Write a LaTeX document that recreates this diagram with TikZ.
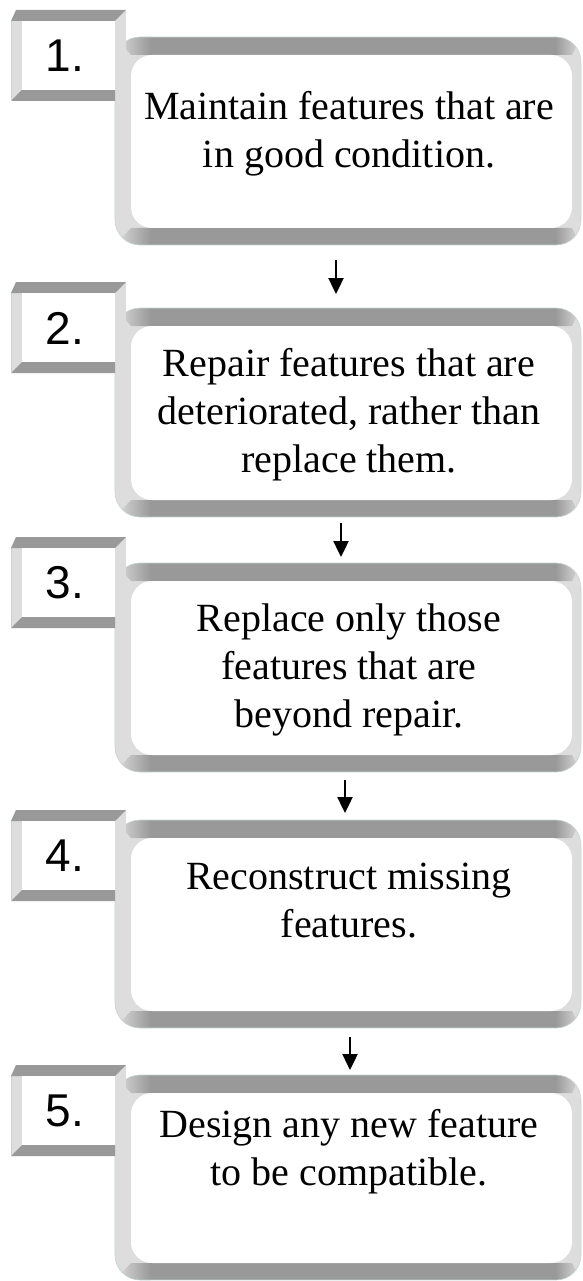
\documentclass[tikz,border=0pt]{standalone}
\usepackage{fontspec}
\setmainfont{Liberation Serif}
\newfontfamily\numfont{Liberation Sans}
\usetikzlibrary{arrows.meta}
\definecolor{bevdark}{HTML}{999999}
\definecolor{bevlight}{HTML}{DDDDDD}
\definecolor{bevedge}{HTML}{C4D4D4}

% large bevelled panel: #1 = top, #2 = bottom
\newcommand\bigpanel[2]{%
  \begin{scope}
    \clip[rounded corners=25] (115,#1) rectangle (581,#2);
    \fill[bevlight] (115,#1) rectangle (581,#2);
    % top band, softened where it turns into the side bands
    \begin{scope}
      \clip (115,#1) -- (581,#1) -- (572,#1+18) -- (131,#1+18) -- cycle;
      \fill[bevdark] (150,#1) rectangle (556,#1+18);
      \shade[left color=bevlight, right color=bevdark] (115,#1) rectangle (150.5,#1+18);
      \shade[left color=bevdark, right color=bevlight] (555.5,#1) rectangle (581,#1+18);
    \end{scope}
    % bottom band
    \begin{scope}
      \clip (115,#2) -- (581,#2) -- (572,#2-17) -- (131,#2-17) -- cycle;
      \fill[bevdark] (150,#2-17) rectangle (556,#2);
      \shade[left color=bevlight, right color=bevdark] (115,#2-17) rectangle (150.5,#2);
      \shade[left color=bevdark, right color=bevlight] (555.5,#2-17) rectangle (581,#2);
    \end{scope}
  \end{scope}
  \draw[bevedge,line width=0.6,rounded corners=25] (115,#1) rectangle (581,#2);
  \fill[white,rounded corners=21] (131,#1+18) rectangle (572,#2-17);
}
% small bevelled number tile: #1 = top
\newcommand\numtile[1]{%
  \fill[bevlight] (11,#1+11) rectangle (126,#1+91);
  \fill[bevlight] (126,#1) -- (126,#1+91) -- (115,#1+91) -- (115,#1+11) -- cycle;
  \fill[bevdark] (16,#1) -- (126,#1) -- (115,#1+11) -- (11,#1+11) -- cycle;
  \fill[bevdark] (11,#1+91) -- (115,#1+91) -- (115,#1+80) -- (22,#1+80) -- cycle;
  \fill[white] (22,#1+11) rectangle (115,#1+80);
  \draw[bevedge,line width=0.5] (11,#1+11) -- (11,#1+91);
}

\tikzset{
  steptext/.style={align=center, inner sep=0pt, font=\fontsize{40}{48}\selectfont},
  numtext/.style={inner sep=0pt, font=\numfont\fontsize{46}{46}\selectfont},
  flow/.style={line width=2.4, -{Triangle[width=15,length=16]}}
}

\begin{document}
\begin{tikzpicture}[x=1pt,y=-1pt]
  \useasboundingbox (0,0) rectangle (583,1281);

  \bigpanel{37}{245}
  \numtile{10}
  \bigpanel{308}{517}
  \numtile{282}
  \bigpanel{563}{772}
  \numtile{537}
  \bigpanel{820}{1028}
  \numtile{810}
  \bigpanel{1075}{1280}
  \numtile{1065}

  \node[numtext] (n1) at (65,56)   {1.};
  \node[numtext] (n2) at (65,328)  {2.};
  \node[numtext] (n3) at (65,583)  {3.};
  \node[numtext] (n4) at (65,856)  {4.};
  \node[numtext] (n5) at (65,1111) {5.};

  \node[steptext] (s1) at (349,134)  {Maintain features that are\\in good condition.};
  \node[steptext] (s2) at (349,415)  {Repair features that are\\deteriorated, rather than\\replace them.};
  \node[steptext] (s3) at (349,670)  {Replace only those\\features that are\\beyond repair.};
  \node[steptext] (s4) at (349,901)  {Reconstruct missing\\features.};
  \node[steptext] (s5) at (349,1152) {Design any new feature\\to be compatible.};

  \coordinate (a1) at (336,260);  \coordinate (b1) at (336,294);
  \coordinate (a2) at (341,523);  \coordinate (b2) at (341,557);
  \coordinate (a3) at (345,780);  \coordinate (b3) at (345,813);
  \coordinate (a4) at (350,1037); \coordinate (b4) at (350,1070);
  \draw[flow] (a1) -- (b1);
  \draw[flow] (a2) -- (b2);
  \draw[flow] (a3) -- (b3);
  \draw[flow] (a4) -- (b4);
\end{tikzpicture}
\end{document}
